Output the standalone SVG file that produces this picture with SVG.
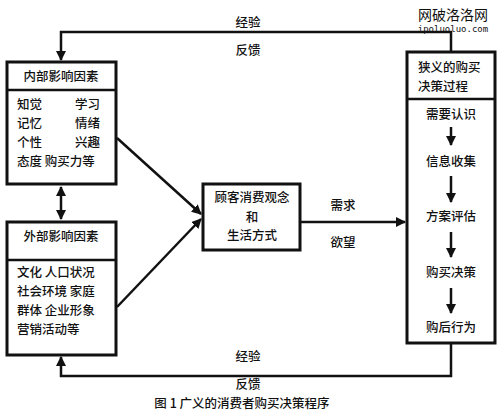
<svg xmlns="http://www.w3.org/2000/svg" width="500" height="411" viewBox="0 0 500 411">
<style>
text{font-family:"Noto Sans CJK SC","Noto Sans",sans-serif;font-size:12.5px;font-weight:500;fill:#111;}
.box{fill:#fff;stroke:#111;stroke-width:3;}
.div{stroke:#111;stroke-width:2.5;}
.ln{fill:none;stroke:#111;stroke-width:2.5;}
.c{text-anchor:middle;}
.wm{font-size:14px;font-weight:400;}
.wm2{font-family:"DejaVu Sans Mono",monospace;font-size:9px;}
</style>
<defs>
<marker id="ah" viewBox="0 0 10 10" refX="9" refY="5" markerWidth="4" markerHeight="4" orient="auto-start-reverse">
<path d="M0,0 L10,5 L0,10 z" fill="#111"/>
</marker>
</defs>
<rect width="500" height="411" fill="#fff"/>
<g id="internal">
<rect class="box" x="7" y="62" width="109" height="122"/>
<line class="div" x1="7" y1="90" x2="116" y2="90"/>
<text x="61" y="81" class="c">内部影响因素</text>
<text x="17" y="109">知觉</text><text x="100" y="109" text-anchor="end">学习</text>
<text x="17" y="128">记忆</text><text x="100" y="128" text-anchor="end">情绪</text>
<text x="17" y="147">个性</text><text x="100" y="147" text-anchor="end">兴趣</text>
<text x="17" y="166">态度 购买力等</text>
</g>
<g id="external">
<rect class="box" x="7" y="222" width="109" height="133"/>
<line class="div" x1="7" y1="260" x2="116" y2="260"/>
<text x="61" y="241" class="c">外部影响因素</text>
<text x="17" y="277">文化 人口状况</text>
<text x="17" y="296">社会环境 家庭</text>
<text x="17" y="315">群体 企业形象</text>
<text x="17" y="334">营销活动等</text>
</g>
<g id="center">
<rect class="box" x="203" y="184" width="97" height="66"/>
<text x="252" y="202" class="c">顾客消费观念</text>
<text x="252" y="222" class="c">和</text>
<text x="252" y="240" class="c">生活方式</text>
</g>
<g id="process">
<rect class="box" x="407" y="52" width="88" height="291"/>
<line class="div" x1="407" y1="99" x2="495" y2="99"/>
<text x="418" y="72">狭义的购买</text>
<text x="418" y="91">决策过程</text>
<text x="451" y="119" class="c">需要认识</text>
<text x="451" y="166" class="c">信息收集</text>
<text x="451" y="221" class="c">方案评估</text>
<text x="451" y="277" class="c">购买决策</text>
<text x="451" y="332" class="c">购后行为</text>
</g>
<g id="connectors">
<polyline class="ln" points="451,51 451,32 61,32 61,60" marker-end="url(#ah)"/>
<polyline class="ln" points="451,344 451,376 61,376 61,357" marker-end="url(#ah)"/>
<line class="ln" x1="61" y1="187" x2="61" y2="219" marker-start="url(#ah)" marker-end="url(#ah)"/>
<line class="ln" x1="117" y1="138" x2="201" y2="214" marker-end="url(#ah)"/>
<line class="ln" x1="117" y1="307" x2="201" y2="219" marker-end="url(#ah)"/>
<line class="ln" x1="301" y1="222" x2="405" y2="222" marker-end="url(#ah)"/>
<line class="ln" x1="451" y1="127" x2="451" y2="145" marker-end="url(#ah)"/>
<line class="ln" x1="451" y1="176" x2="451" y2="202" marker-end="url(#ah)"/>
<line class="ln" x1="451" y1="232" x2="451" y2="257" marker-end="url(#ah)"/>
<line class="ln" x1="451" y1="288" x2="451" y2="313" marker-end="url(#ah)"/>
<text x="248" y="27" class="c">经验</text>
<text x="248" y="55" class="c">反馈</text>
<text x="248" y="361" class="c">经验</text>
<text x="248" y="389" class="c">反馈</text>
<text x="343" y="210" class="c">需求</text>
<text x="343" y="247" class="c">欲望</text>
</g>
<g id="watermark">
<text x="453" y="20" class="c wm">网破洛洛网</text>
<text x="453" y="32" class="c wm2">ipoluoluo.com</text>
</g>
<text x="242" y="408" class="c" font-size="12.5">图 1 广义的消费者购买决策程序</text>
</svg>
